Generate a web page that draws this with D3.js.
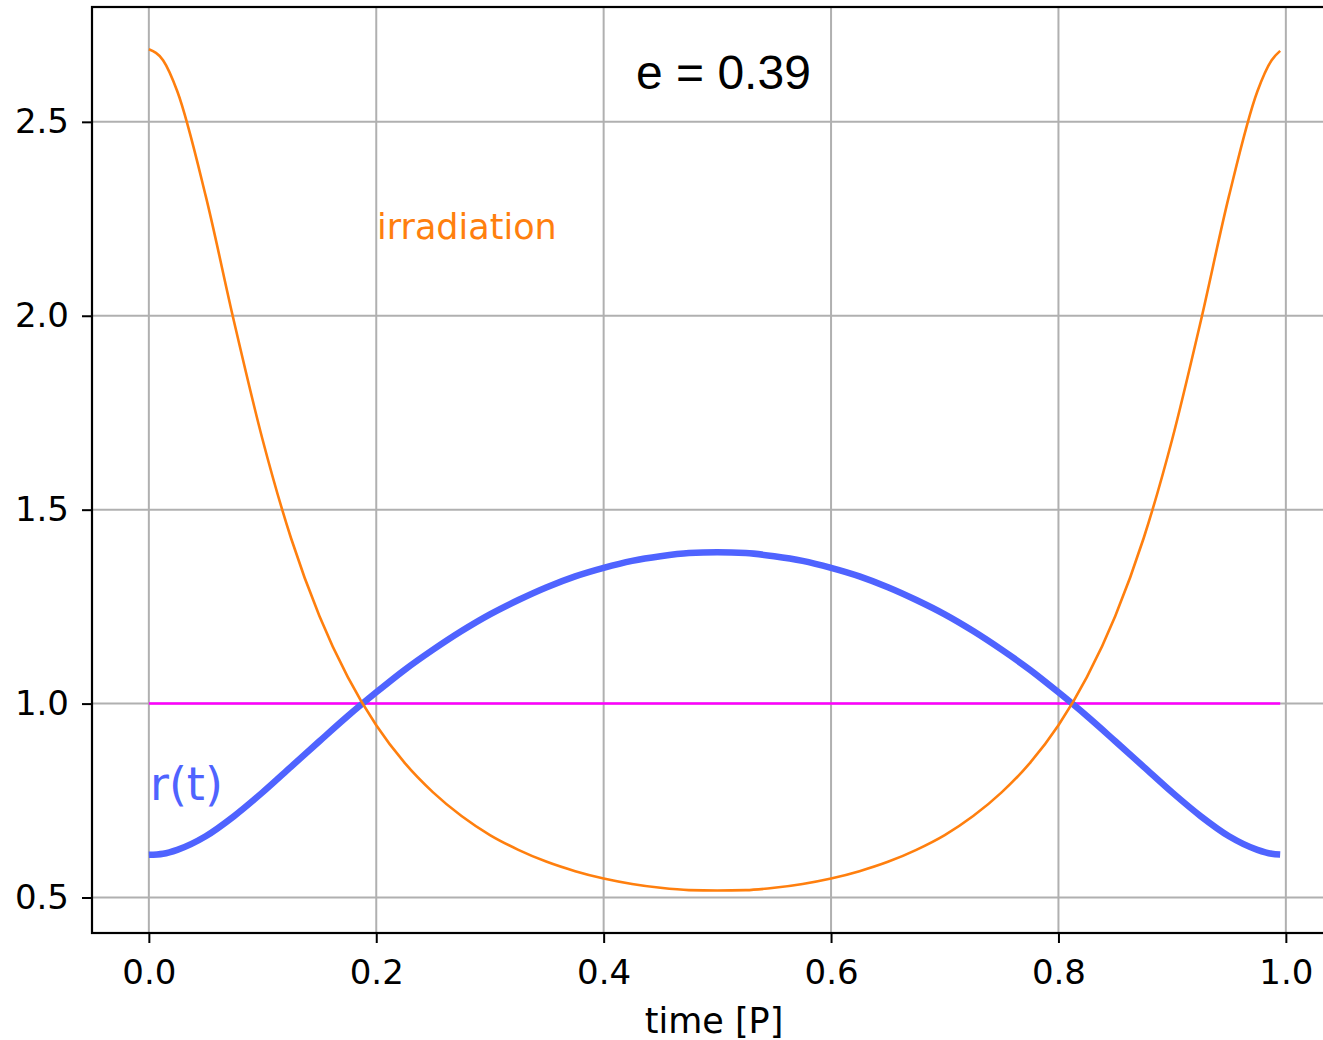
<!DOCTYPE html>
<html>
<head>
<meta charset="utf-8">
<script src="https://cdn.jsdelivr.net/npm/d3@7"></script>
<style>
	body { margin: 0; background: #fff; }
	svg { display: block; }
	text { font-family: "DejaVu Sans", sans-serif; }
</style>
</head>
<body>
<div id="chart"></div>
<script>

// time in orbital periods
var times = [0, 0.0125, 0.025, 0.05, 0.075, 0.1, 0.125, 0.15, 0.175, 0.2, 0.225, 0.25, 0.275, 0.3, 0.325, 0.35, 0.375, 0.4, 0.425, 0.45, 0.475, 0.5,
	0.525, 0.55, 0.575, 0.6, 0.625, 0.65, 0.675, 0.7, 0.725, 0.75, 0.775, 0.8, 0.825, 0.85, 0.875, 0.9, 0.925, 0.95, 0.975, 0.9875, 0.995];

// distance r(t)
var radius = [0.610, 0.613, 0.623, 0.658, 0.710, 0.771, 0.837, 0.903, 0.968, 1.029, 1.087, 1.139, 1.187, 1.230, 1.267, 1.300, 1.328, 1.350, 1.368, 1.380, 1.388, 1.390,
	1.388, 1.380, 1.368, 1.350, 1.328, 1.300, 1.267, 1.230, 1.187, 1.139, 1.087, 1.029, 0.968, 0.903, 0.837, 0.771, 0.710, 0.658, 0.623, 0.613, 0.611];

// irradiation
var irradiation = [2.687, 2.659, 2.579, 2.309, 1.984, 1.681, 1.427, 1.226, 1.068, 0.944, 0.847, 0.771, 0.710, 0.661, 0.623, 0.592, 0.568, 0.549, 0.535, 0.525, 0.519, 0.518,
	0.519, 0.525, 0.535, 0.549, 0.568, 0.592, 0.623, 0.661, 0.710, 0.771, 0.847, 0.944, 1.068, 1.226, 1.427, 1.681, 1.984, 2.309, 2.579, 2.659, 2.683];

var xTicks = [0, 0.2, 0.4, 0.6, 0.8, 1.0];
var yTicks = [0.5, 1.0, 1.5, 2.0, 2.5];
var eccentricity = 0.39;

var width = 1323, height = 1040;
var plotLeft = 92, plotTop = 7, plotRight = 1342.7, plotBottom = 933;

var svg = d3.select("#chart")
	.append("svg")
	.attr("width", width)
	.attr("height", height);

var x = d3.scaleLinear().domain([-0.05, 1.05]).range([plotLeft, plotRight]);
var y = d3.scaleLinear().domain([0.4085, 2.7961]).range([plotBottom, plotTop]);

// grid
var grid = svg.append("g").attr("class", "grid");

grid.selectAll("line.gx")
	.data(xTicks)
	.enter().append("line")
	.attr("x1", function(d) { return x(d); })
	.attr("x2", function(d) { return x(d); })
	.attr("y1", plotTop)
	.attr("y2", plotBottom)
	.attr("stroke", "#b0b0b0")
	.attr("stroke-width", 2);

grid.selectAll("line.gy")
	.data(yTicks)
	.enter().append("line")
	.attr("x1", plotLeft)
	.attr("x2", plotRight)
	.attr("y1", function(d) { return y(d); })
	.attr("y2", function(d) { return y(d); })
	.attr("stroke", "#b0b0b0")
	.attr("stroke-width", 2);

// reference line at r = 1
svg.append("line")
	.attr("x1", x(times[0]))
	.attr("x2", x(times[times.length-1]))
	.attr("y1", y(1))
	.attr("y2", y(1))
	.attr("stroke", "#ff00ff")
	.attr("stroke-width", 2.5);

var line = function(values) {
	return d3.line()
		.x(function(d, i) { return x(times[i]); })
		.y(function(d) { return y(d); })
		.curve(d3.curveMonotoneX)(values);
};

svg.append("path")
	.attr("d", line(radius))
	.attr("fill", "none")
	.attr("stroke", "#4f63ff")
	.attr("stroke-width", 6.5)
	.attr("stroke-linecap", "butt");

svg.append("path")
	.attr("d", line(irradiation))
	.attr("fill", "none")
	.attr("stroke", "#ff7f0e")
	.attr("stroke-width", 2.6);

// axes
var xAxis = d3.axisBottom(x)
	.tickValues(xTicks)
	.tickFormat(d3.format(".1f"))
	.tickSize(10)
	.tickPadding(17);

var yAxis = d3.axisLeft(y)
	.tickValues(yTicks)
	.tickFormat(d3.format(".1f"))
	.tickSize(10)
	.tickPadding(13);

var gx = svg.append("g")
	.attr("transform", "translate(0," + plotBottom + ")")
	.call(xAxis);

var gy = svg.append("g")
	.attr("transform", "translate(" + plotLeft + ",0)")
	.call(yAxis);

[gx, gy].forEach(function(g) {
	g.select(".domain").remove();
	g.selectAll(".tick line").attr("stroke", "#000").attr("stroke-width", 2);
	g.selectAll(".tick text")
		.attr("fill", "#000")
		.style("font-size", "34px")
		.style("font-family", "'DejaVu Sans', sans-serif");
});

// frame
svg.append("rect")
	.attr("x", plotLeft)
	.attr("y", plotTop)
	.attr("width", plotRight - plotLeft)
	.attr("height", plotBottom - plotTop)
	.attr("fill", "none")
	.attr("stroke", "#000")
	.attr("stroke-width", 2.2);

svg.append("text")
	.attr("x", 714)
	.attr("y", 1033)
	.attr("text-anchor", "middle")
	.style("font-size", "35px")
	.text("time [P]");

// annotations
svg.append("text")
	.attr("x", 636)
	.attr("y", 89)
	.style("font-family", "'Liberation Sans', Arial, sans-serif")
	.style("font-size", "48px")
	.attr("fill", "#000")
	.text("e = " + eccentricity);

svg.append("text")
	.attr("x", 377)
	.attr("y", 239)
	.style("font-size", "35px")
	.attr("fill", "#ff7f0e")
	.text("irradiation");

svg.append("text")
	.attr("x", 150)
	.attr("y", 800)
	.style("font-size", "46px")
	.attr("fill", "#4f63ff")
	.text("r(t)");

</script>
</body>
</html>
